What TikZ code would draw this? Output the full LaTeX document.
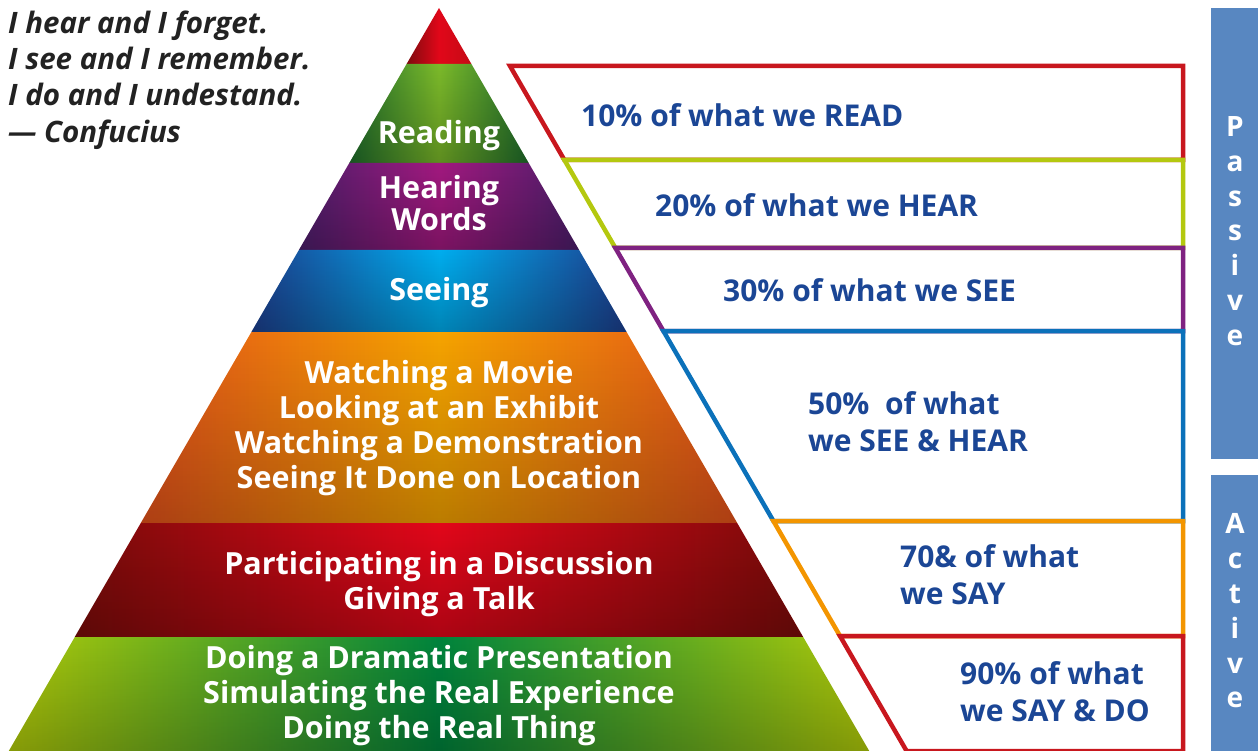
\documentclass[tikz,border=0pt]{standalone}
\usepackage{fontspec}
\setmainfont{Open Sans}
\usetikzlibrary{fadings}
\definecolor{cRed}{HTML}{C8171E}
\definecolor{cLime}{HTML}{B4C80F}
\definecolor{cPurple}{HTML}{7F2281}
\definecolor{cBlue}{HTML}{0B71BA}
\definecolor{cOrange}{HTML}{F39500}
\definecolor{cText}{HTML}{1B4695}
\definecolor{cQuote}{HTML}{222222}
\definecolor{cSide}{HTML}{5887C1}
\definecolor{tL}{HTML}{7E0A0E}\definecolor{tM}{HTML}{E10719}\definecolor{tR}{HTML}{C50B16}
\definecolor{gE}{HTML}{1F6E2C}\definecolor{gC}{HTML}{7CBA2A}
\definecolor{pE}{HTML}{4C1E6B}\definecolor{pC}{HTML}{A2197F}
\definecolor{bE}{HTML}{1D3F8F}\definecolor{bC}{HTML}{00AEEF}
\definecolor{oE}{HTML}{E4521B}\definecolor{oC}{HTML}{F6A400}
\definecolor{rE}{HTML}{7A0C0A}\definecolor{rC}{HTML}{E3071A}
\definecolor{lE}{HTML}{B2CC0A}\definecolor{lC}{HTML}{00843D}
\tikzfading[name=bdark, top color=transparent!100, middle color=transparent!100, bottom color=transparent!20]
\tikzset{
  boxline/.style={line width=4.5pt, line join=miter},
  darken/.style={fill=black, opacity=0.3, path fading=bdark},
  pyr/.style={text=white, font=\bfseries\fontsize{30.5}{35}\selectfont, align=center, inner sep=0pt},
  pct/.style={text=cText, font=\bfseries\fontsize{30}{37}\selectfont, align=left, inner sep=0pt, anchor=west},
  side/.style={text=white, font=\bfseries\fontsize{28}{34.8}\selectfont, align=center, inner sep=0pt},
}
\begin{document}
\begin{tikzpicture}[x=1pt,y=-1pt]
\useasboundingbox (0,0) rectangle (1258,751);
% pyramid bands
\shade[left color=tL, right color=tR, middle color=tM] (439,8)--(471.4,64)--(406.6,64)--cycle;
\shade[left color=gE, right color=gE, middle color=gC] (406.6,64)--(471.4,64)--(528.7,163)--(349.3,163)--cycle;
\fill[darken] (406.6,64)--(471.4,64)--(528.7,163)--(349.3,163)--cycle;
\shade[left color=pE, right color=pE, middle color=pC] (349.3,163)--(528.7,163)--(579.1,250)--(298.9,250)--cycle;
\fill[darken] (349.3,163)--(528.7,163)--(579.1,250)--(298.9,250)--cycle;
\shade[left color=bE, right color=bE, middle color=bC] (298.9,250)--(579.1,250)--(626.6,332)--(251.4,332)--cycle;
\fill[darken] (298.9,250)--(579.1,250)--(626.6,332)--(251.4,332)--cycle;
\shade[left color=oE, right color=oE, middle color=oC] (251.4,332)--(626.6,332)--(737.2,523)--(140.8,523)--cycle;
\fill[darken] (251.4,332)--(626.6,332)--(737.2,523)--(140.8,523)--cycle;
\shade[left color=rE, right color=rE, middle color=rC] (140.8,523)--(737.2,523)--(803.2,637)--(74.8,637)--cycle;
\fill[darken] (140.8,523)--(737.2,523)--(803.2,637)--(74.8,637)--cycle;
\shade[left color=lE, right color=lE, middle color=lC] (74.8,637)--(803.2,637)--(869.2,751)--(8.8,751)--cycle;
\fill[darken] (74.8,637)--(803.2,637)--(869.2,751)--(8.8,751)--cycle;
% pyramid texts
\node[pyr] (reading) at (439,136) {Reading};
\node[pyr, font=\bfseries\fontsize{30.5}{32}\selectfont] (hearing) at (439,203) {Hearing\\Words};
\node[pyr] (seeing) at (439,293) {Seeing};
\node[pyr] (watching) at (439,428) {Watching a Movie\\Looking at an Exhibit\\Watching a Demonstration\\Seeing It Done on Location};
\node[pyr] (discuss) at (439,584) {Participating in a Discussion\\Giving a Talk};
\node[pyr] (doing) at (439,696) {Doing a Dramatic Presentation\\Simulating the Real Experience\\Doing the Real Thing};
% percentage boxes
\draw[boxline, cRed] (510,66)--(1183,66)--(1183,160)--(564.4,160)--cycle;
\draw[boxline, cLime] (564.4,160)--(1183,160)--(1183,248)--(615.4,248)--cycle;
\draw[boxline, cPurple] (615.4,248)--(1183,248)--(1183,331)--(663.4,331)--cycle;
\draw[boxline, cBlue] (663.4,331)--(1183,331)--(1183,521)--(773.4,521)--cycle;
\draw[boxline, cOrange] (773.4,521)--(1183,521)--(1183,636)--(840,636)--cycle;
\draw[boxline, cRed] (840,636)--(1183,636)--(1183,751)--(906.6,751)--cycle;
\node[pct] (p10) at (581,115) {10\% of what we READ};
\node[pct] (p20) at (655,205) {20\% of what we HEAR};
\node[pct] (p30) at (723,290) {30\% of what we SEE};
\node[pct] (p50) at (808,422) {50\%\ \ of what\\we SEE \& HEAR};
\node[pct] (p70) at (900,575) {70\& of what\\we SAY};
\node[pct] (p90) at (960,692) {90\% of what\\we SAY \& DO};
% side bars
\fill[cSide] (1211,8) rectangle (1258,459);
\fill[cSide] (1211,475) rectangle (1258,751);
\node[side] (passive) at (1235,231) {P\\a\\s\\s\\i\\v\\e};
\node[side] (active) at (1235,611) {A\\c\\t\\i\\v\\e};
% quote
\node[anchor=north west, inner sep=0pt, align=left, text=cQuote, font=\bfseries\itshape\fontsize{29.5}{36.3}\selectfont] (quote) at (8,10.5)
  {I hear and I forget.\\I see and I remember.\\I do and I undestand.\\--- Confucius};
\end{tikzpicture}
\end{document}
